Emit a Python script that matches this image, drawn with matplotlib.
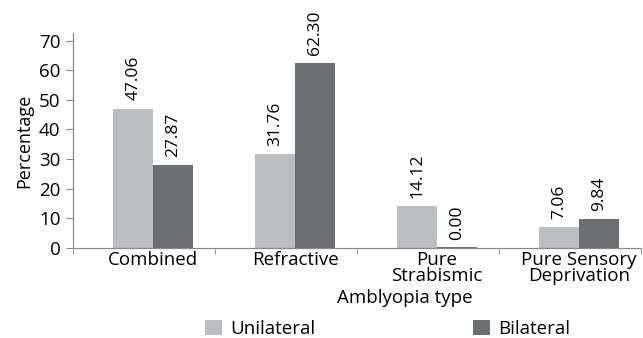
import matplotlib.pyplot as plt
import numpy as np

plt.rcParams['font.family'] = ['Open Sans', 'DejaVu Sans']

categories = ["Combined", "Refractive", "Pure\nStrabismic", "Pure Sensory\nDeprivation"]
unilateral = [47.06, 31.76, 14.12, 7.06]
bilateral = [27.87, 62.30, 0.00, 9.84]
yticks = [0, 10, 20, 30, 40, 50, 60, 70]

c_uni = '#bcbdc0'
c_bil = '#6d6e72'

fig = plt.figure(figsize=(6.43, 3.38), dpi=100)
ax = fig.add_axes([0.1135, 0.266, 0.883, 0.636])

x = np.arange(len(categories))
w = 0.28
b1 = ax.bar(x - w/2, unilateral, w, color=c_uni, label='Unilateral')
b2 = ax.bar(x + w/2, bilateral, w, color=c_bil, label='Bilateral')
# bilateral zero bar drawn as a thin line
for xi, v in zip(x, bilateral):
    if v == 0:
        ax.bar(xi + w/2, 0.3, w, color=c_bil)

for bars, vals in ((b1, unilateral), (b2, bilateral)):
    for r, v in zip(bars, vals):
        ax.text(r.get_x() + r.get_width()/2, v + 2.8, f"{v:.2f}", rotation=90,
                ha='center', va='bottom', fontsize=12.5)

d = 0.065
ax.set_xlim(-0.5 - d, len(categories) - 0.5 - d)
ax.set_ylim(0, 72.5)
ax.set_xticks(x)
ax.set_xticklabels(categories, fontsize=13.5, linespacing=0.9)
ax.set_xticks(np.arange(len(categories) + 1) - 0.5 - d, minor=True)
ax.tick_params(axis='x', which='major', length=0, pad=2)
ax.tick_params(axis='x', which='minor', length=4, direction='out', color='#888888')
ax.set_yticks(yticks)
ax.tick_params(axis='y', labelsize=13.5, length=5, color='#888888', pad=4)

for s in ('top', 'right'):
    ax.spines[s].set_visible(False)
for s in ('left', 'bottom'):
    ax.spines[s].set_color('#888888')
    ax.spines[s].set_linewidth(0.9)

ax.set_ylabel('Percentage', fontsize=13, labelpad=4)
ax.set_xlabel('Amblyopia type', fontsize=13.5)
ax.xaxis.set_label_coords(0.585, -0.19)

fig.legend(handles=[b1, b2], loc='lower left', bbox_to_anchor=(0.293, -0.05),
           ncol=2, frameon=False, fontsize=13.5, columnspacing=8.4,
           handlelength=0.9, handleheight=0.9, handletextpad=0.45)

fig.savefig('out.png', dpi=100)
